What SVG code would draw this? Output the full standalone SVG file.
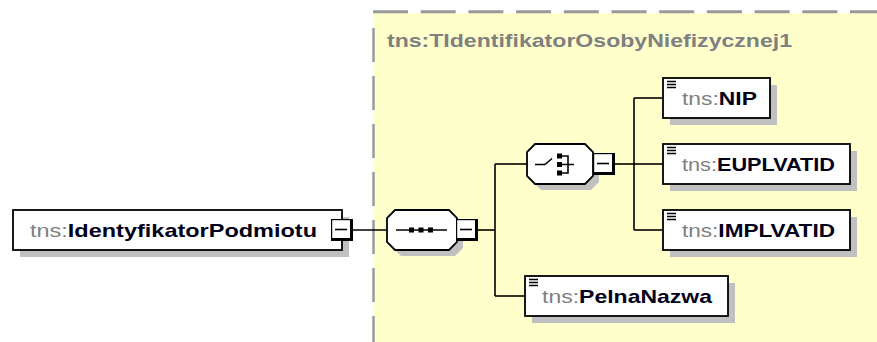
<svg xmlns="http://www.w3.org/2000/svg" xmlns:xlink="http://www.w3.org/1999/xlink" width="877" height="342" viewBox="0 0 877 342">
<style>
.t{font-family:"Liberation Sans",Arial,sans-serif;font-size:19px}
.ns{fill:#808080}
.nm{fill:#000018;font-weight:bold}
.title{fill:#808080;font-weight:bold}
.box{fill:#fff;stroke:#000;stroke-width:1.8}
.oct{fill:#fff;stroke:#000;stroke-width:1.8}
.sh{fill:#c0c0c0}
.ln{stroke:#000;stroke-width:1.6;fill:none}
.ico{stroke:#000;stroke-width:1.6;fill:none}
</style>
<defs>
<g id="minus"><rect width="22" height="22" fill="#000"/><rect x="1.2" y="1.2" width="17.8" height="17.8" fill="#fff"/><line x1="4" y1="10.5" x2="16" y2="10.5" stroke="#000" stroke-width="1.6"/></g>
<path id="elico" d="M4 3.5h9M4 6.5h9M4 9.5h9" stroke="#000" stroke-width="1.6" fill="none"/>
</defs>
<rect width="877" height="342" fill="#fff"/>
<g id="container">
<rect x="374" y="13" width="503" height="329" fill="#ffffcc"/>
<line x1="373" y1="11.7" x2="877" y2="11.7" stroke="#999" stroke-width="3" stroke-dasharray="35 12.7"/>
<line x1="373.5" y1="28" x2="373.5" y2="342" stroke="#999" stroke-width="2.5" stroke-dasharray="34 14"/>
<text class="t title" x="387" y="47" textLength="405" lengthAdjust="spacingAndGlyphs">tns:TIdentifikatorOsobyNiefizycznej1</text>
</g>
<g id="connectors" class="ln">
<path d="M353 230H387"/>
<path d="M478 230H495"/>
<path d="M495 164V296"/>
<path d="M495 164H527"/>
<path d="M495 296H525"/>
<path d="M615 164H634"/>
<path d="M634 98V230"/>
<path d="M634 98H663"/>
<path d="M634 164H663"/>
<path d="M634 230H663"/>
</g>
<g id="n-main">
<rect class="sh" x="20" y="217" width="329" height="40"/>
<rect class="box" x="13" y="210" width="329" height="40"/>
<text class="t" x="30" y="237" textLength="287" lengthAdjust="spacingAndGlyphs"><tspan class="ns">tns:</tspan><tspan class="nm">IdentyfikatorPodmiotu</tspan></text>
<use xlink:href="#minus" x="331" y="219"/>
</g>
<g id="n-sequence">
<polygon class="sh" points="401,216 455,216 463,224 463,248 455,256 401,256 393,248 393,224"/>
<polygon class="oct" points="395,210 449,210 457,218 457,242 449,250 395,250 387,242 387,218"/>
<g class="ico"><path d="M396 230H447"/></g>
<rect x="409" y="227.5" width="5" height="5" fill="#000"/>
<rect x="418.5" y="227.5" width="5" height="5" fill="#000"/>
<rect x="428" y="227.5" width="5" height="5" fill="#000"/>
<use xlink:href="#minus" x="456" y="219"/>
</g>
<g id="n-choice">
<polygon class="sh" points="541,150 591,150 599,158 599,182 591,190 541,190 533,182 533,158"/>
<polygon class="oct" points="535,144 585,144 593,152 593,176 585,184 535,184 527,176 527,152"/>
<g class="ico"><path d="M535 164.5H545L552 158.5"/><path d="M562 156H568V173H562M562 164.5H574"/></g>
<rect x="557" y="153.5" width="5" height="5" fill="#000"/>
<rect x="557" y="162" width="5" height="5" fill="#000"/>
<rect x="557" y="170.5" width="5" height="5" fill="#000"/>
<use xlink:href="#minus" x="593" y="153"/>
</g>
<g id="n-nip">
<rect class="sh" x="670" y="85" width="107" height="40"/>
<rect class="box" x="663" y="78" width="107" height="40"/>
<use xlink:href="#elico" x="663" y="78"/>
<text class="t" x="682" y="105" textLength="75" lengthAdjust="spacingAndGlyphs"><tspan class="ns">tns:</tspan><tspan class="nm">NIP</tspan></text>
</g>
<g id="n-euplvatid">
<rect class="sh" x="670" y="151" width="187" height="40"/>
<rect class="box" x="663" y="144" width="187" height="40"/>
<use xlink:href="#elico" x="663" y="144"/>
<text class="t" x="682" y="171" textLength="153" lengthAdjust="spacingAndGlyphs"><tspan class="ns">tns:</tspan><tspan class="nm">EUPLVATID</tspan></text>
</g>
<g id="n-implvatid">
<rect class="sh" x="670" y="217" width="187" height="40"/>
<rect class="box" x="663" y="210" width="187" height="40"/>
<use xlink:href="#elico" x="663" y="210"/>
<text class="t" x="682" y="237" textLength="153" lengthAdjust="spacingAndGlyphs"><tspan class="ns">tns:</tspan><tspan class="nm">IMPLVATID</tspan></text>
</g>
<g id="n-pelnanazwa">
<rect class="sh" x="532" y="283" width="203" height="40"/>
<rect class="box" x="525" y="276" width="203" height="40"/>
<use xlink:href="#elico" x="525" y="276"/>
<text class="t" x="542" y="303" textLength="170" lengthAdjust="spacingAndGlyphs"><tspan class="ns">tns:</tspan><tspan class="nm">PelnaNazwa</tspan></text>
</g>
</svg>
